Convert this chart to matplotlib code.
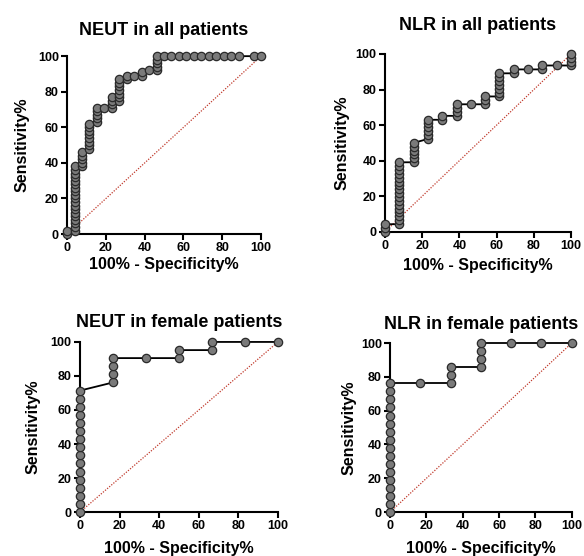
import matplotlib
matplotlib.use("Agg")
import matplotlib.pyplot as plt

# ROC points: 100% - Specificity% (x) and Sensitivity% (y)
neut_all_x = [0, 0, 3.85, 3.85, 3.85, 3.85, 3.85, 3.85, 3.85, 3.85, 3.85, 3.85,
              3.85, 3.85, 3.85, 3.85, 3.85, 3.85, 3.85, 3.85, 3.85,
              7.7, 7.7, 7.7, 7.7, 7.7,
              11.5, 11.5, 11.5, 11.5, 11.5, 11.5, 11.5, 11.5,
              15.4, 15.4, 15.4, 15.4, 15.4, 19.2,
              23.1, 23.1, 23.1, 23.1,
              26.9, 26.9, 26.9, 26.9, 26.9, 26.9, 26.9,
              30.8, 30.8, 34.6, 38.5, 38.5, 42.3,
              46.2, 46.2, 46.2, 46.2, 46.2,
              50, 53.8, 57.7, 61.5, 65.4, 69.2, 73.1, 76.9, 80.8, 84.6, 88.5,
              96.2, 100]
neut_all_y = [0, 2, 2, 4, 6, 8, 10, 12, 14, 16, 18, 20,
              22, 24, 26, 28, 30, 32, 34, 36, 38,
              38, 40, 42, 44, 46,
              48, 50, 52, 54, 56, 58, 60, 62,
              63, 65, 67, 69, 71, 71,
              71, 73, 75, 77,
              75, 77, 79, 81, 83, 85, 87,
              87, 89, 89, 89, 91, 92,
              92, 94, 96, 98, 100,
              100, 100, 100, 100, 100, 100, 100, 100, 100, 100, 100,
              100, 100]

nlr_all_x = [0, 0, 0,
             7.7, 7.7, 7.7, 7.7, 7.7, 7.7, 7.7, 7.7, 7.7, 7.7, 7.7, 7.7,
             7.7, 7.7, 7.7, 7.7, 7.7,
             15.4, 15.4, 15.4, 15.4, 15.4, 15.4,
             23.1, 23.1, 23.1, 23.1, 23.1, 23.1,
             30.8, 30.8,
             38.5, 38.5, 38.5, 38.5,
             46.2,
             53.8, 53.8, 53.8,
             61.5, 61.5, 61.5, 61.5, 61.5, 61.5, 61.5,
             69.2, 69.2, 76.9, 84.6, 84.6, 92.3,
             100, 100, 100, 100]
nlr_all_y = [0, 2.2, 4.3,
             4.3, 6.5, 8.7, 10.9, 13, 15.2, 17.4, 19.6, 21.7, 23.9, 26.1, 28.3,
             30.4, 32.6, 34.8, 37, 39.1,
             39.1, 41.3, 43.5, 45.7, 47.8, 50,
             52.2, 54.3, 56.5, 58.7, 60.9, 63,
             63, 65.2,
             65.2, 67.4, 69.6, 71.7,
             71.7,
             71.7, 73.9, 76.1,
             76.1, 78.3, 80.4, 82.6, 84.8, 87, 89.1,
             89.1, 91.3, 91.3, 91.3, 93.5, 93.5,
             93.5, 95.7, 97.8, 100]

neut_fem_x = [0, 0, 0, 0, 0, 0, 0, 0, 0, 0, 0, 0, 0, 0, 0, 0,
              16.7, 16.7, 16.7, 16.7, 33.3, 50, 50, 66.7, 66.7, 83.3, 100]
neut_fem_y = [0, 4.8, 9.5, 14.3, 19, 23.8, 28.6, 33.3, 38.1, 42.9, 47.6, 52.4,
              57.1, 61.9, 66.7, 71.4,
              76.2, 81, 85.7, 90.5, 90.5, 90.5, 95.2, 95.2, 100, 100, 100]

nlr_fem_x = [0, 0, 0, 0, 0, 0, 0, 0, 0, 0, 0, 0, 0, 0, 0, 0, 0,
             16.7, 33.3, 33.3, 33.3, 50, 50, 50, 50, 66.7, 83.3, 100]
nlr_fem_y = [0, 4.8, 9.5, 14.3, 19, 23.8, 28.6, 33.3, 38.1, 42.9, 47.6, 52.4,
             57.1, 61.9, 66.7, 71.4, 76.2,
             76.2, 76.2, 81, 85.7, 85.7, 90.5, 95.2, 100, 100, 100, 100]

titles = ["NEUT in all patients", "NLR in all patients",
          "NEUT in female patients", "NLR in female patients"]
ticks = [0, 20, 40, 60, 80, 100]

plt.rcParams['font.family'] = ['Liberation Sans', 'DejaVu Sans']
plt.rcParams['font.weight'] = 'bold'

fig = plt.figure(figsize=(5.84, 5.56), dpi=100)
# axes boxes in figure fractions (left, bottom, width, height)
boxes = [[0.115, 0.579, 0.332, 0.320],
         [0.659, 0.583, 0.319, 0.320],
         [0.137, 0.079, 0.339, 0.306],
         [0.668, 0.079, 0.311, 0.304]]
data = [(neut_all_x, neut_all_y), (nlr_all_x, nlr_all_y),
        (neut_fem_x, neut_fem_y), (nlr_fem_x, nlr_fem_y)]
title_pads = [15, 17, 11, 10]
ylab_pads = [6, 4, 7, 3]
xlab_pads = [2, 4, 6, 6]

for i in range(4):
    ax = fig.add_axes(boxes[i])
    xs, ys = data[i]
    # chance line
    ax.plot([0, 100], [0, 100], color='#c0392b', linestyle=(0, (1, 1.2)),
            linewidth=0.9, zorder=1)
    ax.plot(xs, ys, color='black', linewidth=1.3, marker='o', markersize=6,
            markerfacecolor='#7a7a7a', markeredgecolor='#2a2a2a',
            markeredgewidth=0.9, clip_on=False, zorder=3)
    ax.set_xlim(0, 100)
    ax.set_ylim(0, 100)
    ax.set_xticks(ticks)
    ax.set_yticks(ticks)
    ax.spines['top'].set_visible(False)
    ax.spines['right'].set_visible(False)
    ax.spines['left'].set_linewidth(1.5)
    ax.spines['bottom'].set_linewidth(1.5)
    ax.tick_params(width=1.5, length=4, labelsize=9, pad=2)
    for lab in ax.get_xticklabels() + ax.get_yticklabels():
        lab.set_fontweight('bold')
    ax.set_title(titles[i], fontsize=13, fontweight='bold', pad=title_pads[i])
    ax.set_xlabel("100% - Specificity%", fontsize=11.5, fontweight='bold',
                  labelpad=xlab_pads[i])
    ax.set_ylabel("Sensitivity%", fontsize=11.5, fontweight='bold',
                  labelpad=ylab_pads[i])

plt.savefig("out.png", dpi=100)
